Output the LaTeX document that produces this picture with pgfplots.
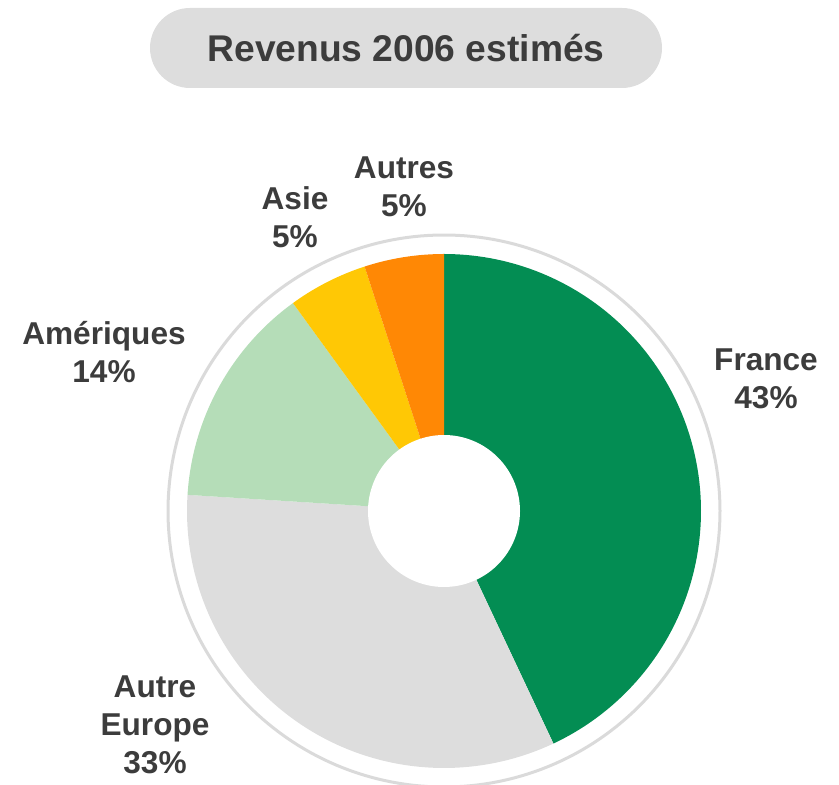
\documentclass[border=0pt]{standalone}
\usepackage{pgfplots}
\pgfplotsset{compat=1.18}
\usepackage{fontspec}
\setmainfont{Liberation Sans}
\definecolor{cfrance}{HTML}{038D53}
\definecolor{ceurope}{HTML}{DDDDDD}
\definecolor{camer}{HTML}{B5DDB8}
\definecolor{casie}{HTML}{FFC805}
\definecolor{cautres}{HTML}{FF8805}
\definecolor{cring}{HTML}{DADADA}
\definecolor{ctext}{HTML}{3C3C3C}
% one donut slice: colour, cumulative share before it, share (%)
\newcommand{\slice}[3]{%
  \addplot[fill=#1, draw=none, domain={90-3.6*(#2+#3)}:{90-3.6*#2}, samples=120, variable=\t]
    ({444+257*cos(\t)},{274+257*sin(\t)}) -- (axis cs:444,274) -- cycle;}
\newcommand{\lab}{\fontsize{15.8pt}{19pt}\selectfont\bfseries\color{ctext}}

\begin{document}
\begin{tikzpicture}
\begin{axis}[
  name=ax, hide axis, scale only axis,
  width=419.5pt, height=392.5pt,
  xmin=0, xmax=839, ymin=0, ymax=785,
]
% shares: France 43, Autre Europe 33, Ameriques 14, Asie 5, Autres 5
\slice{cfrance}{0}{43}
\slice{ceurope}{43}{33}
\slice{camer}{76}{14}
\slice{casie}{90}{5}
\slice{cautres}{95}{5}
% hole and outer ring
\addplot[fill=white, draw=none, domain=0:360, samples=120, variable=\t]
  ({444+76*cos(\t)},{274+76*sin(\t)}) -- cycle;
\addplot[draw=cring, line width=1.5pt, domain=0:360, samples=240, variable=\t]
  ({444+276*cos(\t)},{274+276*sin(\t)});
% title
\fill[ceurope, rounded corners=20pt] (axis cs:150,697) rectangle (axis cs:662,777);
\node[font=\fontsize{18.6pt}{22pt}\selectfont\bfseries, text=ctext] at (axis cs:406,737) {Revenus 2006 estimés};
% labels
\node[align=center, font=\lab] at (axis cs:766,406) {France\\43\%};
\node[align=center, font=\lab] at (axis cs:404,598) {Autres\\5\%};
\node[align=center, font=\lab] at (axis cs:295,568) {Asie\\5\%};
\node[align=center, font=\lab] at (axis cs:104,433) {Amériques\\14\%};
\node[align=center, font=\lab] at (axis cs:155,60) {Autre\\Europe\\33\%};
\end{axis}
\pgfresetboundingbox
\useasboundingbox (ax.south west) rectangle (ax.north east);
\end{tikzpicture}
\end{document}
